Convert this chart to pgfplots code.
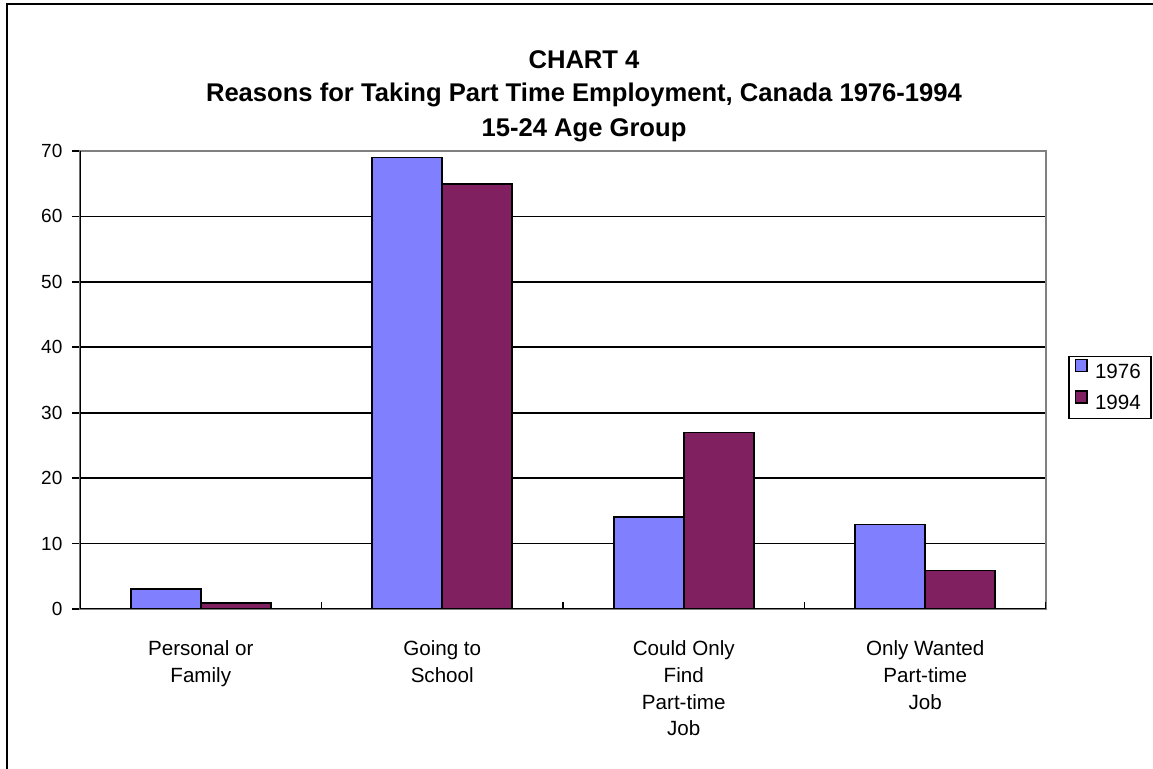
\documentclass[border=0pt]{standalone}
\usepackage{fontspec}
\setmainfont{Liberation Sans}
\usepackage{pgfplots}
\pgfplotsset{compat=1.18}
\definecolor{bar76}{RGB}{128,128,255}
\definecolor{bar94}{RGB}{128,32,96}
\definecolor{boxgray}{RGB}{128,128,128}
\pgfplotsset{sqlegend/.style={legend image code/.code={\draw[##1] (0pt,0.5pt) rectangle (5.8pt,6.5pt);}}}

\begin{document}
\begin{tikzpicture}
\useasboundingbox (0,0) rectangle (576.5pt,384.5pt);
% outer frame (cut at right and bottom in the original)
\draw[line width=1.3pt] (3.5pt,-2pt) -- (3.5pt,382.5pt) -- (580pt,382.5pt);
% title
\node[font=\bfseries\fontsize{12.8}{14}\selectfont, anchor=base] at (292pt,350pt) {CHART 4};
\node[font=\bfseries\fontsize{12.8}{14}\selectfont, anchor=base] at (292pt,333.5pt) {Reasons for Taking Part Time Employment, Canada 1976-1994};
\node[font=\bfseries\fontsize{12.8}{14}\selectfont, anchor=base] at (292pt,316pt) {15-24 Age Group};

\begin{axis}[
  at={(40pt,80pt)}, anchor=south west,
  scale only axis, width=483pt, height=229pt,
  ymin=0, ymax=70, ytick={0,10,...,70},
  xmin=0.5, xmax=4.5,
  xtick={1,2,3,4},
  xticklabels={{Personal or\\Family},{Going to\\School},{Could Only\\Find\\Part-time\\Job},{Only Wanted\\Part-time\\Job}},
  major x tick style={draw=none},
  xticklabel style={font=\fontsize{10.3}{13.4}\selectfont, align=center, yshift=-8.5pt},
  yticklabel style={font=\fontsize{9.5}{11}\selectfont, xshift=-1.5pt},
  /pgf/number format/assume math mode=true,
  tick align=outside, major tick length=3.8pt,
  ytick pos=left, xtick pos=bottom,
  ytick style={black, line width=0.9pt},
  ymajorgrids, major grid style={black, line width=0.8pt},
  axis line style={boxgray, line width=0.6pt},
  ybar=0pt, bar width=35pt,
  legend style={at={(1.0228,0.553)}, anchor=north west, draw=black, line width=0.8pt,
    font=\fontsize{10.3}{12}\selectfont, inner xsep=3pt, inner ysep=1pt, row sep=2.5pt,
    /tikz/every odd column/.append style={column sep=1.5pt},
    legend cell align=left},
]
\addplot[fill=bar76, draw=black, line width=0.8pt, sqlegend]
  coordinates {(1,3.1) (2,69) (3,14.1) (4,12.9)};
\addplot[fill=bar94, draw=black, line width=0.8pt, sqlegend]
  coordinates {(1,0.9) (2,65) (3,27) (4,5.9)};
\legend{1976,1994}
% axis frame: black left and bottom, grey top and right
\draw[boxgray, line width=1pt] (rel axis cs:0,1) -- (rel axis cs:1,1) -- (rel axis cs:1,0);
\draw[black, line width=1pt] (rel axis cs:0,1) -- (rel axis cs:0,0) -- (rel axis cs:1,0);
% category boundary ticks, crossing the x axis
\pgfplotsinvokeforeach{0.5,1.5,2.5,3.5,4.5}{
  \draw[black, line width=0.8pt] (axis cs:#1,0) ++(0pt,3.5pt) -- ++(0pt,-6.5pt);
}
\end{axis}
\end{tikzpicture}
\end{document}
